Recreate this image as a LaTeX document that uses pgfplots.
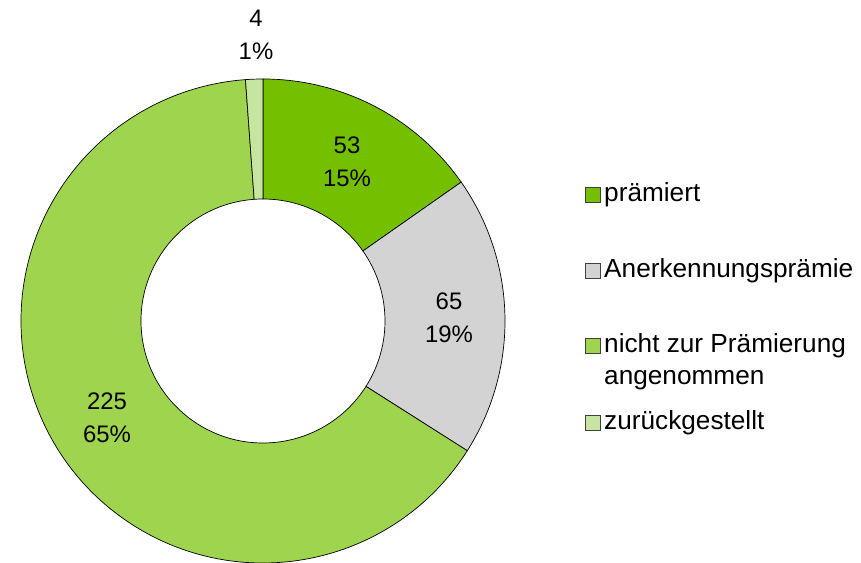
\documentclass[border=0pt]{standalone}
\usepackage{fontspec}
\setmainfont{Liberation Sans}
\usepackage{pgfplots}
\usepackage{pgfplotstable}
\pgfplotsset{compat=1.18}
\definecolor{praem}{HTML}{74C000}
\definecolor{anerk}{HTML}{D3D3D3}
\definecolor{nicht}{HTML}{9ED44E}
\definecolor{zurueck}{HTML}{C6E6A0}

\pgfplotstableread{
idx value
0 53
1 65
2 225
3 4
}\piedata

% one ring segment, angles in degrees, radii in bp (= axis units)
\newcommand\slice[3]{%
  \filldraw[fill=#3,draw=black,line width=0.7bp]
    ([shift={(#1:242bp)}]axis cs:0,0) arc[start angle=#1,end angle=#2,radius=242bp]
    -- ([shift={(#2:122bp)}]axis cs:0,0) arc[start angle=#2,end angle=#1,radius=122bp]
    -- cycle;}
\newcommand\legsq[3]{%
  \filldraw[fill=#3,draw=black!75,line width=0.6bp]
    (axis cs:322,#1) rectangle (axis cs:337,#2);}
\tikzset{leg/.style={anchor=base west,inner sep=0pt,font=\fontsize{26.3}{30}\selectfont}}

\begin{document}
\begin{tikzpicture}
\fontsize{24}{33}\selectfont
\pgfplotstablegetelem{0}{value}\of\piedata \let\va\pgfplotsretval
\pgfplotstablegetelem{1}{value}\of\piedata \let\vb\pgfplotsretval
\pgfplotstablegetelem{2}{value}\of\piedata \let\vc\pgfplotsretval
\pgfplotstablegetelem{3}{value}\of\piedata \let\vd\pgfplotsretval
\pgfmathsetmacro\tot{\va+\vb+\vc+\vd}
\pgfmathsetmacro\aA{90}
\pgfmathsetmacro\aB{\aA-360*(\va/\tot)}
\pgfmathsetmacro\aC{\aB-360*(\vb/\tot)}
\pgfmathsetmacro\aD{\aC-360*(\vc/\tot)}
\pgfmathsetmacro\aE{\aD-360*(\vd/\tot)}
\begin{axis}[x=1bp,y=1bp,xmin=-263,xmax=598,ymin=-242,ymax=321,
  scale only axis,hide axis,clip=false]
\slice{\aA}{\aB}{praem}
\slice{\aB}{\aC}{anerk}
\slice{\aC}{\aD}{nicht}
\slice{\aD}{\aE}{zurueck}
% data labels
\node[align=center] at (axis cs:84,159) {53\\15\%};
\node[align=center] at (axis cs:186,3) {65\\19\%};
\node[align=center] at (axis cs:-156,-97) {225\\65\%};
\node[align=center] at (axis cs:-7,286) {4\\1\%};
% legend
\legsq{119}{134}{praem}
\node[leg] at (axis cs:341,119) {prämiert};
\legsq{43}{58}{anerk}
\node[leg] at (axis cs:341,43) {Anerkennungsprämie};
\legsq{-32}{-17}{nicht}
\node[leg] at (axis cs:341,-32) {nicht zur Prämierung};
\node[leg] at (axis cs:341,-64) {angenommen};
\legsq{-109}{-94}{zurueck}
\node[leg] at (axis cs:341,-109) {zurückgestellt};
\end{axis}
\pgfresetboundingbox
\useasboundingbox (current axis.south west) rectangle (current axis.north east);
\end{tikzpicture}
\end{document}
